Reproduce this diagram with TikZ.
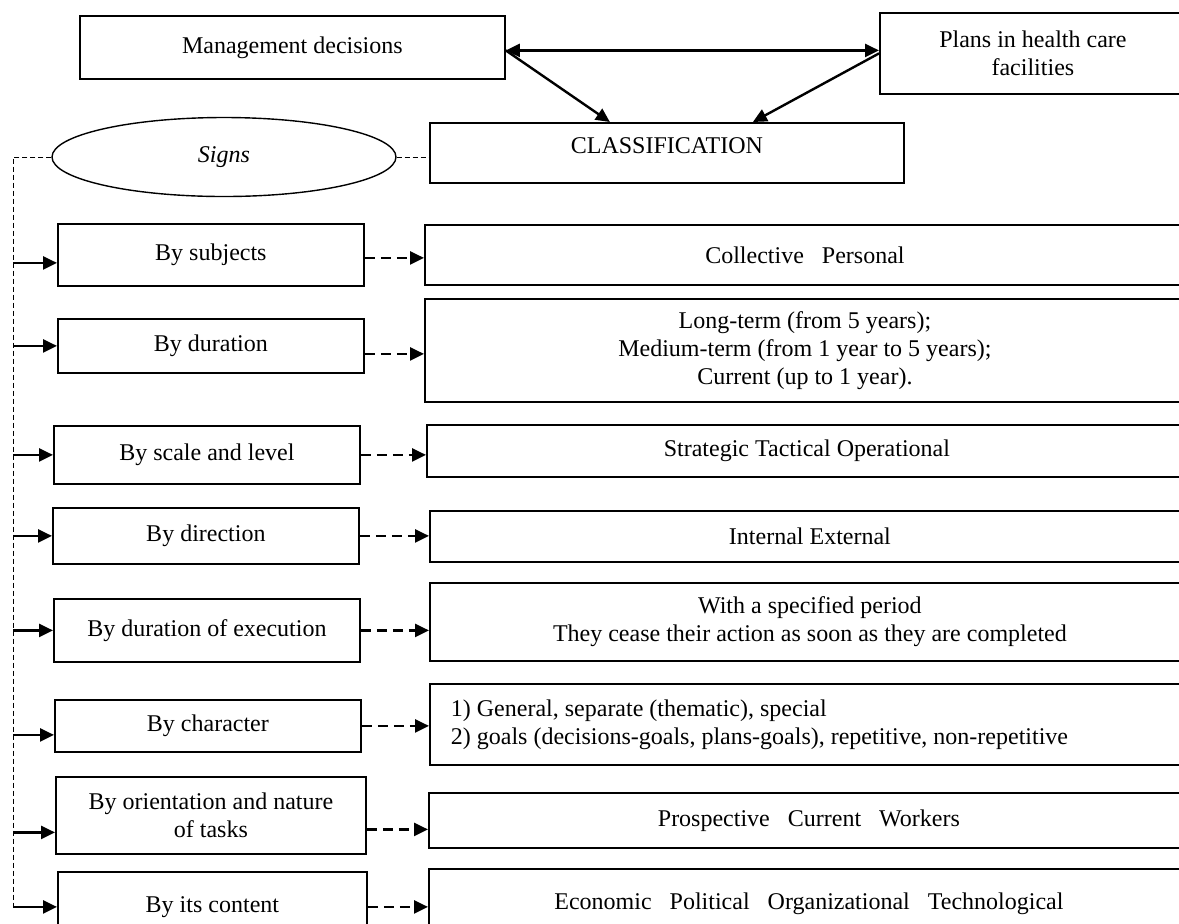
\documentclass[tikz,border=0pt]{standalone}
\usepackage{fontspec}
\setmainfont{Liberation Serif}
\usetikzlibrary{arrows.meta,calc,shapes.geometric}

\begin{document}
\begin{tikzpicture}[
    x=0.5pt, y=-0.5pt,
    >={Triangle[length=7pt,width=6.5pt]},
    every node/.style={font=\fontsize{12pt}{14pt}\selectfont},
    head/.style={draw,line width=0.9pt,anchor=north west,align=center,inner sep=0pt},
    crit/.style={draw,line width=0.9pt,anchor=north west,minimum width=153pt,align=center,inner sep=0pt},
    kind/.style={draw,line width=0.9pt,anchor=north west,minimum width=380pt,align=center,inner sep=0pt},
    tie/.style={line width=1.2pt},
    feed/.style={line width=1.2pt,->},
    link/.style={line width=1.2pt,->,dash pattern=on 5pt off 3pt},
    spine/.style={line width=0.5pt,dash pattern=on 2.5pt off 1.5pt}
]
\useasboundingbox (0,0) rectangle (1179,923);
\clip (0,0) rectangle (1179,923);

% --- Top ---
\node[head,minimum width=212.5pt,minimum height=31.5pt] (mgmt) at (79,15) {Management decisions};
\node[head,minimum width=153pt,minimum height=40.5pt] (plans) at (879,12) {Plans in health care\\facilities};
\node[head,minimum width=237pt,minimum height=30pt,text depth=7pt] (class) at (429,122) {CLASSIFICATION};
\node[draw,ellipse,line width=0.7pt,minimum width=172pt,minimum height=39.5pt,inner sep=0pt] (sign) at (224,157) {\textit{Signs}};

% --- Criteria ---
\node[crit,minimum height=31pt] (subj) at (57,223) {By subjects};
\node[crit,minimum height=27pt] (dur) at (57,318) {By duration};
\node[crit,minimum height=29pt] (scale) at (53,425) {By scale and level};
\node[crit,minimum height=28pt] (dir) at (52,507) {By direction};
\node[crit,minimum height=31.5pt] (exec) at (53,598) {By duration of execution};
\node[crit,minimum height=26pt] (char) at (54,699) {By character};
\node[crit,minimum height=38.5pt,minimum width=155pt] (orient) at (55,776) {By orientation and nature\\of tasks};
\node[crit,minimum height=35pt,minimum width=154.5pt] (content) at (57,871) {By its content};

% --- Kinds ---
\node[kind,minimum height=30pt] (coll) at (424,224) {Collective\ \ \ Personal};
\node[kind,minimum height=51.5pt] (term) at (424,298) {Long-term (from 5 years);\\Medium-term (from 1 year to 5 years);\\Current (up to 1 year).};
\node[kind,minimum height=26pt] (level) at (426,424) {Strategic Tactical Operational};
\node[kind,minimum height=25.5pt] (sphere) at (429,510) {Internal External};
\node[kind,minimum height=39pt] (period) at (429,582) {With a specified period\\They cease their action as soon as they are completed};
\node[kind,minimum height=40.5pt,align=flush left,text width=359pt,inner xsep=10.5pt] (scope) at (429,683) {1) General, separate (thematic), special\\2) goals (decisions-goals, plans-goals), repetitive, non-repetitive};
\node[kind,minimum height=27.5pt] (task) at (428,792) {Prospective\ \ \ Current\ \ \ Workers};
\node[kind,minimum height=35pt] (area) at (428,868) {Economic\ \ \ Political\ \ \ Organizational\ \ \ Technological};

% --- Top arrows ---
\draw[tie,<->] ($(mgmt.east)+(0,3)$) -- ($(mgmt.east -| plans.west)+(0,3)$);
\draw[tie,->] ($(mgmt.east)+(0,3)$) -- ($(class.north)+(-57,0)$);
\draw[tie,->] (plans.west) -- ($(class.north)+(86,0)$);

% --- Signs line ---
\coordinate (spine) at (13,157);
\draw[spine] (sign.east) -- (sign.east -| class.west);
\draw[spine] (sign.west) -- (spine) -- (spine |- content.west);

% --- Into criteria ---
\draw[feed] ($(spine |- subj.west)+(0,8)$) -- ($(subj.west)+(0,8)$);
\draw[feed] (spine |- dur.west) -- (dur.west);
\draw[feed] (spine |- scale.west) -- (scale.west);
\draw[feed] (spine |- dir.west) -- (dir.west);
\draw[feed] (spine |- exec.west) -- (exec.west);
\draw[feed] ($(spine |- char.west)+(0,9)$) -- ($(char.west)+(0,9)$);
\draw[feed] ($(spine |- orient.west)+(0,17)$) -- ($(orient.west)+(0,17)$);
\draw[feed] (spine |- content.west) -- (content.west);

% --- Criteria to kinds ---
\draw[link] ($(subj.east)+(0,3)$) -- ($(subj.east -| coll.west)+(0,3)$);
\draw[link] ($(dur.east)+(0,8)$) -- ($(dur.east -| term.west)+(0,8)$);
\draw[link] (scale.east) -- (scale.east -| level.west);
\draw[link] (dir.east) -- (dir.east -| sphere.west);
\draw[link] (exec.east) -- (exec.east -| period.west);
\draw[link] (char.east) -- (char.east -| scope.west);
\draw[link] ($(orient.east)+(0,14)$) -- ($(orient.east -| task.west)+(0,14)$);
\draw[link] (content.east) -- (content.east -| area.west);
\end{tikzpicture}
\end{document}
